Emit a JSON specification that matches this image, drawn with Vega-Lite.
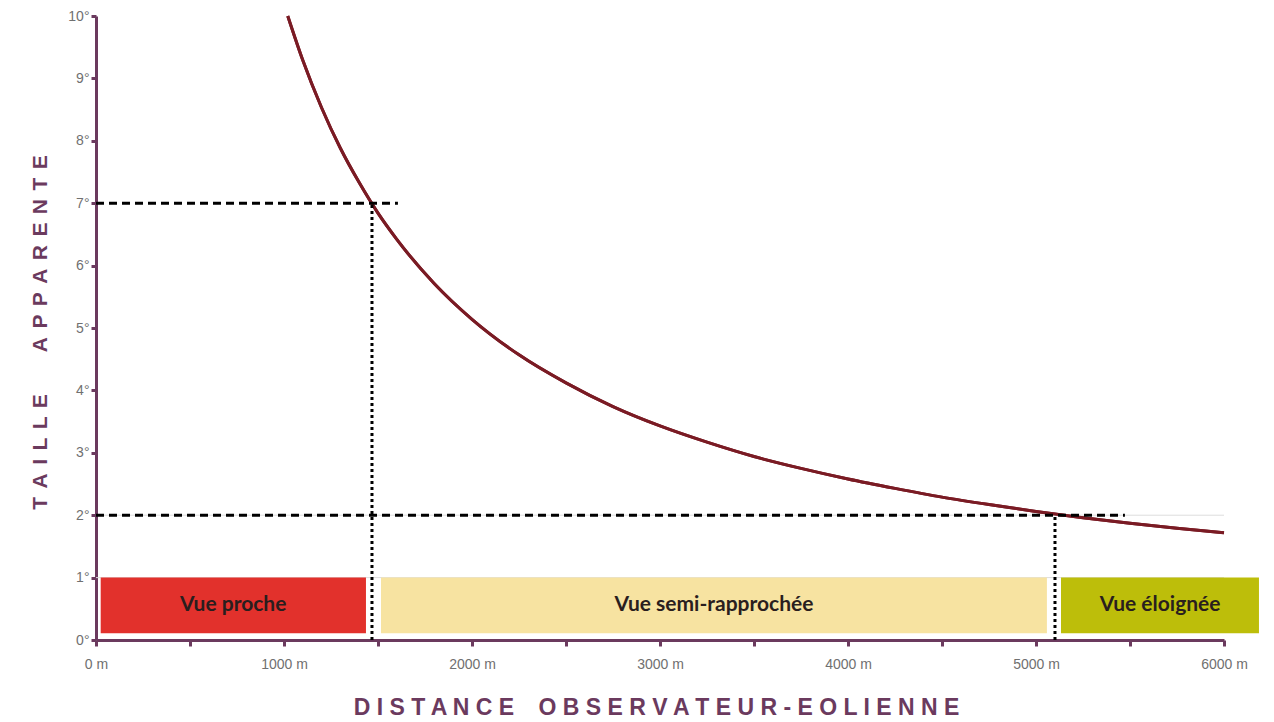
{
  "$schema": "https://vega.github.io/schema/vega-lite/v6.json",
  "width": 1128,
  "height": 624,
  "autosize": {"type": "none"},
  "padding": {"left": 96, "top": 16, "right": 50, "bottom": 82},
  "background": "white",
  "config": {
    "view": {"stroke": null},
    "axis": {"grid": false}
  },
  "datasets": {
    "curve": [
      {"d": 1020, "deg": 10.0}, {"d": 1100, "deg": 9.29}, {"d": 1200, "deg": 8.53},
      {"d": 1300, "deg": 7.88}, {"d": 1400, "deg": 7.33}, {"d": 1500, "deg": 6.84},
      {"d": 1600, "deg": 6.42}, {"d": 1800, "deg": 5.71}, {"d": 2000, "deg": 5.14},
      {"d": 2250, "deg": 4.57}, {"d": 2500, "deg": 4.12}, {"d": 2750, "deg": 3.74},
      {"d": 3000, "deg": 3.43}, {"d": 3250, "deg": 3.17}, {"d": 3500, "deg": 2.94},
      {"d": 3750, "deg": 2.75}, {"d": 4000, "deg": 2.58}, {"d": 4250, "deg": 2.43},
      {"d": 4500, "deg": 2.29}, {"d": 4750, "deg": 2.17}, {"d": 5000, "deg": 2.06},
      {"d": 5250, "deg": 1.96}, {"d": 5500, "deg": 1.87}, {"d": 5750, "deg": 1.79},
      {"d": 6000, "deg": 1.72}
    ],
    "zones": [
      {"zone": "Vue proche", "start": 25, "end": 1436, "mid": 730, "lo": 0.11, "hi": 1, "center": 0.555},
      {"zone": "Vue semi-rapprochée", "start": 1516, "end": 5058, "mid": 3287, "lo": 0.11, "hi": 1, "center": 0.555},
      {"zone": "Vue éloignée", "start": 5133, "end": 6186, "mid": 5660, "lo": 0.11, "hi": 1, "center": 0.555}
    ],
    "hdash": [
      {"y": 7, "xstart": 0, "xend": 1606},
      {"y": 2, "xstart": 0, "xend": 5473}
    ],
    "vdot": [
      {"x": 1468, "ybase": 0, "ytop": 7},
      {"x": 5101, "ybase": 0, "ytop": 2}
    ],
    "grid": [{"g": 1}, {"g": 2}]
  },
  "layer": [
    {
      "data": {"name": "curve"},
      "mark": {"type": "line", "color": "#7a1b24", "strokeWidth": 3, "interpolate": "monotone"},
      "encoding": {
        "x": {"field": "d", "type": "quantitative", "scale": {"domain": [0, 6000], "nice": false},
          "axis": {
            "values": [0, 500, 1000, 1500, 2000, 2500, 3000, 3500, 4000, 4500, 5000, 5500, 6000],
            "labelExpr": "datum.value % 1000 == 0 ? datum.value + ' m' : ''",
            "domainColor": "#6b3a5e", "domainWidth": 3,
            "tickColor": "#6b3a5e", "tickWidth": 3, "tickSize": 6,
            "labelColor": "#707070", "labelFont": "Liberation Sans", "labelFontSize": 14,
            "labelPadding": 11, "labelFlush": false,
            "title": "D I S T A N C E \u2002 O B S E R V A T E U R - E O L I E N N E",
            "titleFont": "Liberation Sans", "titleFontSize": 23, "titleFontWeight": "bold",
            "titleColor": "#6b3a5e", "titleX": 560, "titleY": 67,
            "titleAlign": "center", "titleBaseline": "middle"
          }
        },
        "y": {"field": "deg", "type": "quantitative", "scale": {"domain": [0, 10], "nice": false},
          "axis": {
            "values": [0, 1, 2, 3, 4, 5, 6, 7, 8, 9, 10],
            "labelExpr": "datum.value + '°'",
            "domainColor": "#6b3a5e", "domainWidth": 3,
            "tickColor": "#6b3a5e", "tickWidth": 3, "tickSize": 5,
            "labelColor": "#707070", "labelFont": "Liberation Sans", "labelFontSize": 14,
            "labelPadding": 2,
            "title": "T\u2009\u2009A\u2009\u2009I\u2009\u2009L\u2009\u2009L\u2009\u2009E\u2003\u2003A\u2009\u2009P\u2009\u2009P\u2009\u2009A\u2009\u2009R\u2009\u2009E\u2009\u2009N\u2009\u2009T\u2009\u2009E",
            "titleFont": "Liberation Sans", "titleFontSize": 21, "titleFontWeight": "bold",
            "titleColor": "#6b3a5e", "titleX": -56, "titleY": 316, "titleAngle": 270,
            "titleAlign": "center", "titleBaseline": "middle"
          }
        }
      }
    },
    {
      "data": {"name": "grid"},
      "mark": {"type": "rule", "color": "#dddddd", "strokeWidth": 1},
      "encoding": {
        "y": {"field": "g", "type": "quantitative"}
      }
    },
    {
      "data": {"name": "zones"},
      "mark": {"type": "rect"},
      "encoding": {
        "x": {"field": "start", "type": "quantitative"},
        "x2": {"field": "end"},
        "y": {"field": "lo", "type": "quantitative"},
        "y2": {"field": "hi"},
        "color": {
          "field": "zone", "type": "nominal", "legend": null,
          "scale": {
            "domain": ["Vue proche", "Vue semi-rapprochée", "Vue éloignée"],
            "range": ["#e2312c", "#f7e3a1", "#bdbe0a"]
          }
        }
      }
    },
    {
      "data": {"name": "zones"},
      "mark": {"type": "text", "font": "Lato", "fontWeight": "bold", "fontSize": 21, "color": "#2a1e1e", "baseline": "middle"},
      "encoding": {
        "x": {"field": "mid", "type": "quantitative"},
        "y": {"field": "center", "type": "quantitative"},
        "text": {"field": "zone"}
      }
    },
    {
      "data": {"name": "curve"},
      "mark": {"type": "line", "color": "#7a1b24", "strokeWidth": 3, "interpolate": "monotone"},
      "encoding": {
        "x": {"field": "d", "type": "quantitative"},
        "y": {"field": "deg", "type": "quantitative"}
      }
    },
    {
      "data": {"name": "hdash"},
      "mark": {"type": "rule", "color": "#000000", "strokeWidth": 3, "strokeDash": [8, 5]},
      "encoding": {
        "x": {"field": "xstart", "type": "quantitative"},
        "x2": {"field": "xend"},
        "y": {"field": "y", "type": "quantitative"}
      }
    },
    {
      "data": {"name": "vdot"},
      "mark": {"type": "rule", "color": "#000000", "strokeWidth": 3, "strokeDash": [3, 3]},
      "encoding": {
        "x": {"field": "x", "type": "quantitative"},
        "y": {"field": "ybase", "type": "quantitative"},
        "y2": {"field": "ytop"}
      }
    }
  ]
}
